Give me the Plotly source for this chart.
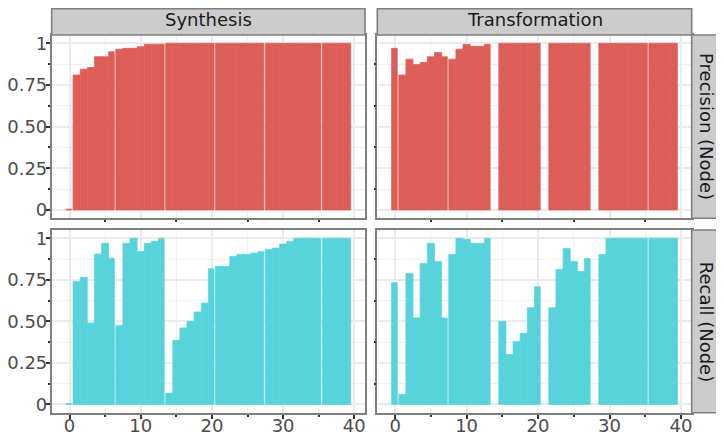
import plotly.graph_objects as go

# ---------------- data ----------------
x_vals = list(range(40))

synth_precision = [0.005, 0.81, 0.845, 0.855, 0.92, 0.92, 0.95, 0.965, 0.97, 0.97,
                   0.98, 0.995, 0.995, 0.995, 1.0, 1.0, 1.0, 1.0, 1.0, 1.0,
                   1.0, 1.0, 1.0, 1.0, 1.0, 1.0, 1.0, 1.0, 1.0, 1.0,
                   1.0, 1.0, 1.0, 1.0, 1.0, 1.0, 1.0, 1.0, 1.0, 1.0]

trans_precision = [0.97, 0.81, 0.905, 0.873, 0.885, 0.92, 0.945, 0.92, 0.905, 0.965,
                   0.994, 0.982, 0.982, 0.994, None, 1.0, 1.0, 1.0, 1.0, 1.0,
                   1.0, None, 1.0, 1.0, 1.0, 1.0, 1.0, 1.0, None, 1.0,
                   1.0, 1.0, 1.0, 1.0, 1.0, 1.0, 1.0, 1.0, 1.0, 1.0]

synth_recall = [0.005, 0.74, 0.765, 0.49, 0.905, 0.97, 0.88, 0.475, 0.97, 1.0,
                0.92, 0.97, 0.982, 1.0, 0.068, 0.386, 0.46, 0.50, 0.557, 0.61,
                0.817, 0.83, 0.83, 0.89, 0.903, 0.903, 0.911, 0.921, 0.933, 0.941,
                0.965, 0.982, 1.0, 1.0, 1.0, 1.0, 1.0, 1.0, 1.0, 1.0]

trans_recall = [0.733, 0.06, 0.788, 0.52, 0.848, 0.97, 0.861, 0.52, 0.903, 1.0,
                0.994, 0.97, 0.97, 1.0, None, 0.50, 0.30, 0.379, 0.428, 0.582,
                0.708, None, 0.582, 0.812, 0.938, 0.861, 0.80, 0.878, None, 0.903,
                1.0, 1.0, 1.0, 1.0, 1.0, 1.0, 1.0, 1.0, 1.0, 1.0]

# last x of each run of bars (a thin white seam follows)
synth_group_ends = [0, 6, 13, 20, 27, 35]
trans_group_ends = [0, 7, 13, 20, 27, 35]

col_labels = ["Synthesis", "Transformation"]
row_labels = ["Precision (Node)", "Recall (Node)"]
y_ticks = [0, 0.25, 0.5, 0.75, 1]
y_ticktext = ["0", "0.25", "0.50", "0.75", "1"]
x_ticks = [0, 10, 20, 30, 40]

RED = "#DC5E57"
CYAN = "#57D3DB"

# ---------------- layout geometry (window pixels) ----------------
# the page body has an 8px margin, so the figure sits at (8, 8) in the window
OFF = 8
W, H = 724 - OFF, 436 - OFF
col_px = [(51.7, 365.0), (377.3, 691.7)]
row_px = [(35.0, 218.3), (230.0, 412.7)]
strip_top = 8.8
strip_right = 721.5


def px_x(v):
    return (v - OFF) / W


def px_y(v):
    return 1 - (v - OFF) / H


def widths(ends):
    return [0.8 if x in ends else 1.0 for x in x_vals]


fig = go.Figure()

panels = [
    (synth_precision, RED, synth_group_ends, "x", "y"),
    (trans_precision, RED, trans_group_ends, "x2", "y2"),
    (synth_recall, CYAN, synth_group_ends, "x3", "y3"),
    (trans_recall, CYAN, trans_group_ends, "x4", "y4"),
]
for vals, color, ends, xa, ya in panels:
    fig.add_trace(go.Bar(
        x=x_vals, y=vals, xaxis=xa, yaxis=ya,
        width=widths(ends), offset=-0.5,
        marker=dict(color=color, line=dict(width=0.7, color=color)),
        showlegend=False, hoverinfo="x+y",
    ))

FONT = "DejaVu Sans"
tickfont = dict(family=FONT, size=18, color="#4D4D4D")
grid_major = "#EBEBEB"
border = "#7F7F7F"

layout = dict(
    width=W, height=H, autosize=False,
    margin=dict(l=0, r=0, t=0, b=0, pad=0),
    paper_bgcolor="white", plot_bgcolor="white",
    barmode="overlay",
    font=dict(family=FONT),
)

axis_ids = [("xaxis", "yaxis", 0, 0), ("xaxis2", "yaxis2", 0, 1),
            ("xaxis3", "yaxis3", 1, 0), ("xaxis4", "yaxis4", 1, 1)]
for i, (xk, yk, r, c) in enumerate(axis_ids):
    anchor_x = "y" if i == 0 else f"y{i+1}"
    anchor_y = "x" if i == 0 else f"x{i+1}"
    show_x = (r == 1)
    show_y = (c == 0)
    layout[xk] = dict(
        domain=[px_x(col_px[c][0]), px_x(col_px[c][1])],
        anchor=anchor_x, range=[-2.5, 41.5], automargin=False,
        tickmode="array", tickvals=x_ticks,
        showticklabels=show_x, ticks="outside" if show_x else "",
        ticklen=4, tickwidth=1.6, tickcolor="#333333",
        tickfont=tickfont, ticklabelstandoff=-8,
        showgrid=True, gridcolor=grid_major, gridwidth=1.5,
        zeroline=False, showline=True, mirror=True,
        linecolor=border, linewidth=1.6,
        minor=dict(tickmode="array", tickvals=[5, 15, 25, 35], ticks="outside",
                   ticklen=2, tickwidth=2, tickcolor="#333333",
                   showgrid=True, gridcolor="#F2F2F2", gridwidth=0.8),
        fixedrange=True,
    )
    layout[yk] = dict(
        domain=[px_y(row_px[r][1]), px_y(row_px[r][0])],
        anchor=anchor_y, range=[-0.05, 1.05], automargin=False,
        tickmode="array", tickvals=y_ticks, ticktext=y_ticktext,
        showticklabels=show_y, ticks="outside" if show_y else "",
        ticklen=4, tickwidth=1.6, tickcolor="#333333",
        tickfont=tickfont, ticklabelstandoff=-5,
        showgrid=True, gridcolor=grid_major, gridwidth=1.5,
        zeroline=False, showline=True, mirror=True,
        linecolor=border, linewidth=1.6,
        minor=dict(tickmode="array", tickvals=[0.125, 0.375, 0.625, 0.875],
                   ticks="outside", ticklen=2, tickwidth=2, tickcolor="#333333",
                   showgrid=True, gridcolor="#F2F2F2", gridwidth=0.8),
        fixedrange=True,
    )

shapes = []
annotations = []
strip_font = dict(family=FONT, size=18, color="#1A1A1A")
for c, lab in enumerate(col_labels):
    x0, x1 = col_px[c]
    shapes.append(dict(type="rect", xref="paper", yref="paper",
                       x0=px_x(x0), x1=px_x(x1), y0=px_y(row_px[0][0]), y1=px_y(strip_top),
                       fillcolor="#CCCCCC", line=dict(color=border, width=1.6), layer="above"))
    annotations.append(dict(text=lab, xref="paper", yref="paper",
                            x=px_x((x0 + x1) / 2), y=px_y(19.5),
                            showarrow=False, font=strip_font, xanchor="center", yanchor="middle"))
for r, lab in enumerate(row_labels):
    y0, y1 = row_px[r]
    shapes.append(dict(type="rect", xref="paper", yref="paper",
                       x0=px_x(col_px[1][1]), x1=px_x(strip_right), y0=px_y(y1), y1=px_y(y0),
                       fillcolor="#CCCCCC", line=dict(color=border, width=1.6), layer="above"))
    annotations.append(dict(text=lab, xref="paper", yref="paper",
                            x=px_x((col_px[1][1] + strip_right) / 2), y=px_y((y0 + y1) / 2),
                            showarrow=False, font=strip_font, textangle=90,
                            xanchor="center", yanchor="middle"))

layout["shapes"] = shapes
layout["annotations"] = annotations
fig.update_layout(**layout)

fig.write_html("out.html")
